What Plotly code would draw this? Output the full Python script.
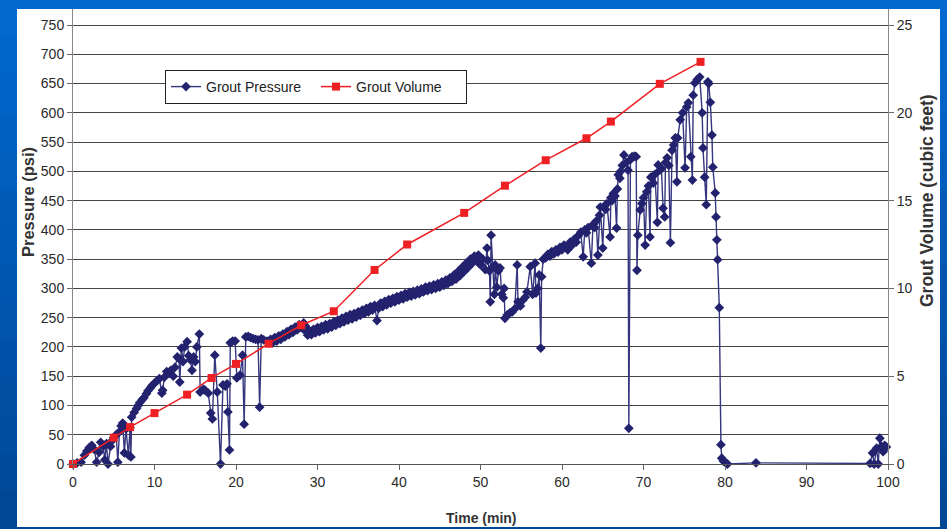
import plotly.graph_objects as go

# ---------------- data ----------------
vol_time = [0, 5, 7, 10, 14, 17, 20, 24, 28, 32, 37, 41, 48, 53, 58, 63, 66, 72, 77]
vol_cuft = [0, 1.5, 2.1, 2.9, 3.95, 4.9, 5.7, 6.85, 7.9, 8.7, 11.05, 12.5, 14.3,
            15.85, 17.3, 18.55, 19.5, 21.65, 22.9]

press_time = [
    0, 0.5, 1.0, 1.4, 1.7, 2.0, 2.3, 2.6, 2.9, 3.2, 3.4, 3.7, 3.9, 4.1, 4.3, 4.6, 4.8,
    5.0, 5.3, 5.5, 5.7, 5.9, 6.1, 6.3, 6.5, 6.8, 7.0, 7.1, 7.2,
    7.5, 7.8, 8.0, 8.2, 8.5, 8.7, 9.0, 9.2, 9.5, 9.7, 10.0, 10.3, 10.6, 10.9, 11.0,
    11.2, 11.5, 11.8, 12.0, 12.3, 12.5, 12.8, 13.0, 13.1, 13.3, 13.5, 13.7, 14.0,
    14.2, 14.4, 14.6, 14.8, 15.0, 15.2, 15.5,
    15.6, 16.0, 16.2, 16.6, 16.9, 17.1, 17.4, 17.7, 18.1, 18.4, 18.7, 18.9, 19.0,
    19.2, 19.3, 19.6, 19.9, 20.1, 20.5, 20.8, 21.0, 21.2, 21.5, 21.8, 22.1, 22.4,
    22.7, 22.9, 23.1, 23.4, 23.8,
    24.0, 24.25, 24.5, 24.75, 25.0, 25.25, 25.5, 25.75, 26.0, 26.25, 26.5, 26.75,
    27.0, 27.25, 27.5, 27.75, 28.0, 28.3, 28.5, 28.6, 28.8, 29.0, 29.25, 29.5, 29.75,
    30.0, 30.25, 30.5, 30.75, 31.0, 31.25, 31.5, 31.75, 32.0, 32.25, 32.5, 32.75,
    33.0, 33.25, 33.5, 33.75, 34.0, 34.25, 34.5, 34.75, 35.0, 35.25, 35.5, 35.75,
    36.0, 36.25, 36.5, 36.75, 37.0, 37.3, 37.5, 37.75, 38.0, 38.25, 38.5, 38.75,
    39.0, 39.25, 39.5, 39.75, 40.0, 40.25, 40.5, 40.75, 41.0, 41.25, 41.5, 41.75,
    42.0, 42.25, 42.5, 42.75, 43.0, 43.25, 43.5, 43.75, 44.0, 44.25, 44.5, 44.75,
    45.0, 45.25, 45.5, 45.75, 46.0, 46.25, 46.5, 46.75, 47.0, 47.25, 47.5, 47.75,
    48.0, 48.25, 48.5, 48.75, 49.0, 49.25, 49.5, 49.75, 49.9,
    50.0, 50.3, 50.6, 50.8, 50.9, 51.1, 51.2, 51.3, 51.5, 51.7, 51.8, 52.0, 52.2,
    52.4, 52.6, 52.8, 52.9, 53.0, 53.3, 53.6, 53.9, 54.2, 54.5, 54.6, 54.9, 55.2,
    55.5, 55.7, 56.1, 56.4, 56.7, 56.8, 57.0, 57.2, 57.4, 57.5, 57.7, 58.0, 58.25,
    58.5, 58.75, 59.0, 59.25, 59.5, 59.75, 60.0, 60.25, 60.5, 60.7, 61.0, 61.25,
    61.5, 61.75, 62.0, 62.3, 62.6, 62.8, 63.0, 63.2, 63.6, 63.8, 64.0, 64.2, 64.4,
    64.6, 64.7, 65.0, 65.2, 65.35, 65.5, 65.9, 66.0, 66.15, 66.3, 66.5, 66.7,
    66.8, 66.9, 67.1, 67.2, 67.4, 67.6, 67.9, 68.1, 68.2, 68.4, 68.6, 68.9, 69.1, 69.2,
    69.3, 69.6, 69.8, 70.0, 70.2, 70.4, 70.6, 70.8, 70.9, 71.2, 71.4, 71.7, 71.8,
    72.0, 72.2, 72.4, 72.6, 72.7, 72.9, 73.1, 73.3, 73.5, 73.7, 73.9, 74.1, 74.2,
    74.5, 74.8, 75.1, 75.3, 75.5, 75.8, 76.0, 76.1, 76.3, 76.6, 76.9, 77.2, 77.3,
    77.5, 77.7, 77.9, 78.0, 78.2, 78.4, 78.5, 78.8, 78.9, 79.0, 79.1, 79.3, 79.5,
    79.6, 79.8, 80.0, 80.3, 83.8, 97.8, 98.1, 98.3, 98.6, 98.8,
    99.0, 99.2, 99.4, 99.6, 99.8,
]
press_psi = [
    0, 2, 3, 15, 22, 28, 32, 25, 3, 20, 37, 30, 7, 35, 0, 30, 40,
    45, 50, 3, 55, 65, 70, 19, 60, 15, 62, 12, 80,
    88, 95, 100, 105, 110, 113, 120, 125, 130, 134, 138, 142, 146, 121, 126,
    148, 158, 155, 160, 150, 165, 183, 180, 140, 198, 175, 200, 209,
    185, 178, 160, 183, 175, 200, 222,
    123, 128, 126, 121, 87, 77, 186, 123, 0, 135, 133, 137, 89,
    24, 207, 210, 210, 147, 152, 186, 68, 217, 218, 216, 214, 213,
    212, 97, 214, 212, 210,
    207, 213, 207, 216, 210, 219, 213, 222, 217, 226, 221, 230,
    225, 234, 229, 238, 233, 241, 236, 226, 220, 228, 221, 230, 224,
    233, 226, 235, 229, 238, 231, 240, 234, 243, 237, 246, 240,
    249, 243, 252, 246, 255, 248, 257, 251, 260, 254, 263, 257,
    266, 260, 269, 263, 271, 245, 266, 275, 269, 278, 272, 281,
    275, 283, 277, 286, 280, 288, 282, 291, 285, 293, 287, 295,
    289, 297, 291, 299, 294, 302, 296, 304, 298, 306, 300, 308,
    302, 311, 305, 314, 308, 318, 312, 323, 316, 329, 322, 336,
    329, 343, 336, 350, 343, 355, 348, 357, 352,
    340, 350, 332, 369, 348, 330, 277, 391, 337, 290, 340, 302, 330,
    335, 290, 284, 300, 249, 255, 258, 260, 265, 340, 277, 270, 280,
    285, 294, 337, 290, 343, 292, 300, 323, 198, 320, 350, 352, 358,
    355, 363, 359, 366, 362, 370, 366, 374, 370, 366, 379, 374,
    384, 379, 390, 396, 354, 400, 395, 404, 343, 409, 404, 415, 357,
    425, 439, 369, 440, 435, 445, 388, 455, 450, 462, 458, 403,
    470, 494, 488, 500, 510, 528, 515, 502, 61, 520, 525, 526, 525, 331,
    391, 434, 445, 455, 374, 465, 475, 388, 490, 480, 495, 413, 511,
    502, 505, 437, 422, 515, 523, 510, 378, 536, 545, 557, 482, 557,
    588, 600, 506, 610, 617, 525, 485, 630, 651, 657, 661, 600, 540,
    490, 443, 653, 650, 618, 562, 507, 463, 422, 383, 349, 267, 33,
    10, 5, 3, 0, 2, 1, 19, 0, 27, 0,
    44, 30, 21, 32, 29,
]

p_ticks = list(range(0, 751, 50))
v_ticks = [0, 5, 10, 15, 20, 25]
x_ticks = list(range(0, 101, 10))

# ---------------- figure ----------------
FONT = "Liberation Sans, Arial, sans-serif"
NAVY = "#22226e"
RED = "#ee2024"

fig = go.Figure()
fig.add_trace(go.Scatter(
    x=press_time, y=press_psi, name="Grout Pressure", mode="lines+markers",
    line=dict(color="#36367f", width=1.4),
    marker=dict(symbol="diamond", size=7.5, color=NAVY),
    cliponaxis=False, yaxis="y",
))
fig.add_trace(go.Scatter(
    x=vol_time, y=vol_cuft, name="Grout Volume", mode="lines+markers",
    line=dict(color=RED, width=1.5),
    marker=dict(symbol="square", size=8, color=RED),
    cliponaxis=False, yaxis="y2",
))

L, R, T, B = 73, 59, 9, 65
W, H = 947, 529
pw, ph = W - L - R, H - T - B
ytop_p = 750 * ph / (464 - 25)
ytop_v = 25 * ph / (464 - 25)

def px_x(px):
    return (px - L) / pw

def px_y(py):
    return (H - B - py) / ph

shapes = []
# slide background gradient (top to bottom)
bands = 14
c0 = (0x00, 0x68, 0xce)
c1 = (0x00, 0x48, 0x96)
for i in range(bands):
    f = i / (bands - 1)
    col = "rgb(%d,%d,%d)" % tuple(int(c0[k] + (c1[k] - c0[k]) * f) for k in range(3))
    y_a = H * i / bands
    y_b = H * (i + 1) / bands + 1
    shapes.append(dict(type="rect", xref="paper", yref="paper", layer="below",
                       x0=px_x(0), x1=px_x(W), y0=px_y(y_b), y1=px_y(y_a),
                       fillcolor=col, line=dict(width=0)))
shapes.append(dict(type="rect", xref="paper", yref="paper", layer="below",
                   x0=px_x(17), x1=px_x(940), y0=px_y(527), y1=px_y(9),
                   fillcolor="white", line=dict(width=0)))

tickfont = dict(family=FONT, size=14, color="#2a2a2a")
fig.update_layout(
    width=W, height=H,
    margin=dict(l=L, r=R, t=T, b=B),
    paper_bgcolor="#005cbb",
    plot_bgcolor="white",
    font=dict(family=FONT, size=14, color="#222"),
    shapes=shapes,
    showlegend=True,
    legend=dict(orientation="h", x=px_x(165), y=px_y(70), xanchor="left", yanchor="top",
                entrywidth=105, entrywidthmode="pixels",
                bgcolor="white", bordercolor="#222", borderwidth=1,
                font=dict(family=FONT, size=14, color="#222")),
    xaxis=dict(range=[0, 100], tickvals=x_ticks, ticks="outside", ticklen=5,
               tickcolor="#666", showline=True, linecolor="#555", linewidth=1,
               showgrid=False, zeroline=False, tickfont=tickfont),
    yaxis=dict(range=[0, ytop_p], tickvals=p_ticks, ticks="outside", ticklen=5,
               tickcolor="#666", showline=True, linecolor="#888", linewidth=1,
               showgrid=True, gridcolor="#444444", gridwidth=1, zeroline=False,
               tickfont=tickfont),
    yaxis2=dict(range=[0, ytop_v], tickvals=v_ticks, overlaying="y", side="right",
                ticks="outside", ticklen=5, tickcolor="#666", showline=True,
                linecolor="#888", linewidth=1, showgrid=False, zeroline=False,
                tickfont=tickfont),
    annotations=[
        dict(text="<b>Pressure (psi)</b>", xref="paper", yref="paper",
             x=px_x(28), y=px_y(202), textangle=-90, showarrow=False,
             xanchor="center", yanchor="middle",
             font=dict(family=FONT, size=16.5, color="#333")),
        dict(text="<b>Grout Volume (cubic feet)</b>", xref="paper", yref="paper",
             x=px_x(927), y=px_y(201), textangle=-90, showarrow=False,
             xanchor="center", yanchor="middle",
             font=dict(family=FONT, size=17.5, color="#333")),
        dict(text="<b>Time (min)</b>", xref="paper", yref="paper",
             x=px_x(481), y=px_y(518), showarrow=False,
             xanchor="center", yanchor="middle",
             font=dict(family=FONT, size=14, color="#333")),
    ],
)

fig.write_html("out.html")
